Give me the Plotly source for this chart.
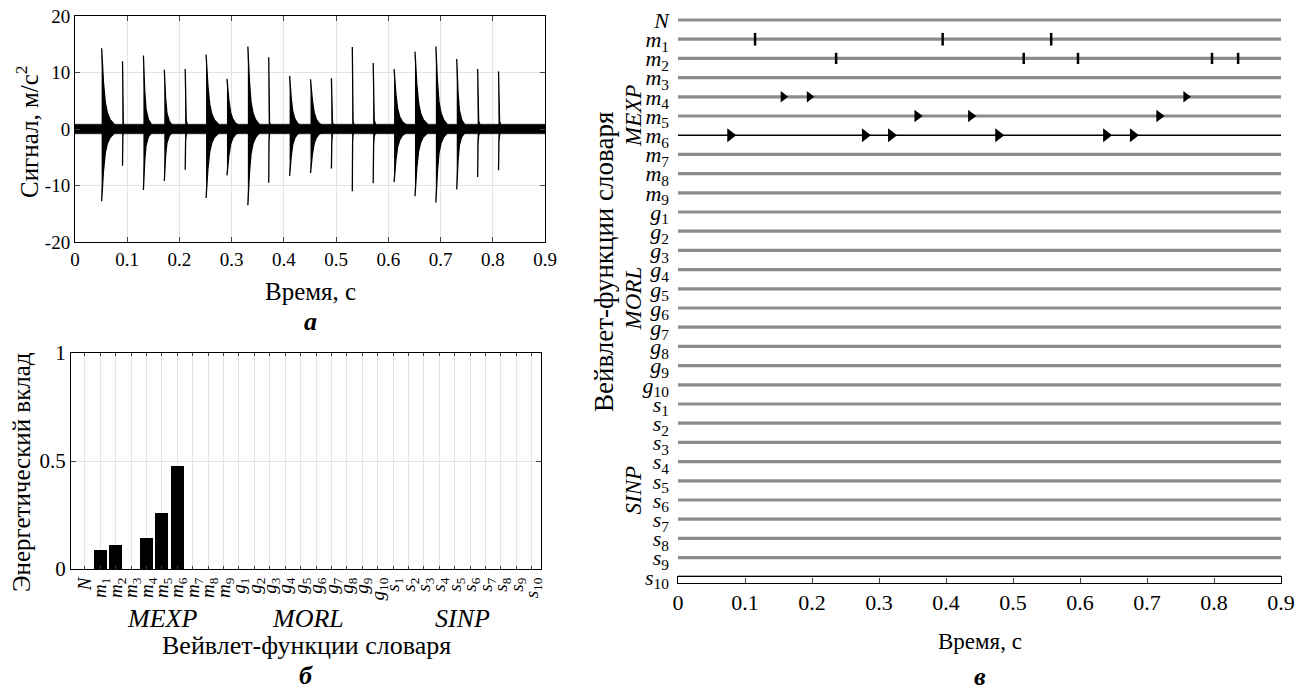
import plotly.graph_objects as go

W, H = 1313, 692
FONT = "Liberation Serif"
PAGE_OFFSET = 8  # browser body margin

# ---------------- panel a: signal ----------------
IMPULSE_T = [0.051, 0.091, 0.131, 0.171, 0.211, 0.251, 0.291, 0.331, 0.371, 0.411,
             0.451, 0.491, 0.531, 0.571, 0.611, 0.651, 0.691, 0.731, 0.771, 0.811]
IMPULSE_POS = [14.3, 12.0, 13.0, 10.5, 10.6, 13.2, 8.9, 14.6, 12.7, 9.4,
               8.8, 9.0, 14.5, 11.7, 10.6, 13.7, 14.6, 12.4, 10.6, 10.2]
IMPULSE_NEG = [-12.8, -6.5, -10.8, -9.2, -7.2, -12.2, -8.2, -13.5, -9.5, -8.3,
               -7.8, -7.0, -11.0, -9.6, -9.4, -11.9, -13.0, -10.7, -8.5, -7.3]
IMPULSE_TYPE = ["m6", "m1", "m4", "m4", "m2", "m6", "m6", "m5", "m1", "m5",
                "m6", "m2", "m1", "m2", "m6", "m6", "m5", "m4", "m2", "m2"]
NOISE_T = [0.0, 0.9]
NOISE_AMP = 0.85
# envelope: time after onset (s) and fraction of the peak
DECAY_T = {
    "m1": [0, 0.0006, 0.0015, 0.003],
    "m2": [0, 0.0008, 0.002, 0.0045],
    "m4": [0, 0.001, 0.0025, 0.005, 0.0095, 0.015],
    "m5": [0, 0.0012, 0.003, 0.006, 0.01, 0.015, 0.021],
    "m6": [0, 0.0012, 0.0035, 0.007, 0.011, 0.016, 0.024],
}
DECAY_F = {
    "m1": [1, 0.2, 0.09, 0.06],
    "m2": [1, 0.3, 0.13, 0.07],
    "m4": [1, 0.72, 0.52, 0.27, 0.13, 0.065],
    "m5": [1, 0.78, 0.58, 0.33, 0.19, 0.11, 0.06],
    "m6": [1, 0.8, 0.58, 0.33, 0.2, 0.12, 0.06],
}
SIG_X_TICKS = [0, 0.1, 0.2, 0.3, 0.4, 0.5, 0.6, 0.7, 0.8, 0.9]
SIG_X_LABELS = ["0", "0.1", "0.2", "0.3", "0.4", "0.5", "0.6", "0.7", "0.8", "0.9"]
SIG_Y_TICKS = [-20, -10, 0, 10, 20]
SIG_Y_LABELS = ["-20", "-10", "0", "10", "20"]

# ---------------- panel б: energy ----------------
CATEGORIES = (["N"] + ["m%d" % i for i in range(1, 10)]
              + ["g%d" % i for i in range(1, 11)] + ["s%d" % i for i in range(1, 11)])
ENERGY = [0, 0.088, 0.113, 0, 0.144, 0.259, 0.477, 0, 0, 0,
          0, 0, 0, 0, 0, 0, 0, 0, 0, 0,
          0, 0, 0, 0, 0, 0, 0, 0, 0, 0]
GROUPS = {"MEXP": ["m%d" % i for i in range(1, 10)],
          "MORL": ["g%d" % i for i in range(1, 11)],
          "SINP": ["s%d" % i for i in range(1, 11)]}
E_Y_TICKS = [0, 0.5, 1]
E_Y_LABELS = ["0", "0.5", "1"]

# ---------------- panel в: time-frequency events ----------------
EVENT_T = {
    "m1": [0.115, 0.395, 0.557],
    "m2": [0.236, 0.516, 0.597, 0.797, 0.836],
    "m4": [0.157, 0.196, 0.758],
    "m5": [0.357, 0.437, 0.718],
    "m6": [0.078, 0.279, 0.318, 0.478, 0.639, 0.679],
}
HIGHLIGHT_ROW = "m6"


def px(x):
    return (x - PAGE_OFFSET) / W


def py(y):
    return 1 - (y - PAGE_OFFSET) / H


def label(cat):
    if len(cat) == 1:
        return "<i>%s</i>" % cat
    return "<i>%s</i><sub>%s</sub>" % (cat[0], cat[1:])


fig = go.Figure()

# noise band
fig.add_trace(go.Scatter(
    x=[NOISE_T[0], NOISE_T[1], NOISE_T[1], NOISE_T[0]],
    y=[NOISE_AMP, NOISE_AMP, -NOISE_AMP, -NOISE_AMP],
    fill="toself", fillcolor="black", mode="lines",
    line=dict(color="black", width=0.5), xaxis="x", yaxis="y",
    hoverinfo="skip", showlegend=False))

# impulses
for t0, p, n, typ in zip(IMPULSE_T, IMPULSE_POS, IMPULSE_NEG, IMPULSE_TYPE):
    offs, fr = DECAY_T[typ], DECAY_F[typ]
    xs = [t0 + o for o in offs] + [t0 + o for o in reversed(offs)]
    ys = [p * f for f in fr] + [n * f for f in reversed(fr)]
    fig.add_trace(go.Scatter(
        x=xs, y=ys, fill="toself", fillcolor="black", mode="lines",
        line=dict(color="black", width=1.3), xaxis="x", yaxis="y",
        hoverinfo="skip", showlegend=False))

# energy bars
fig.add_trace(go.Bar(
    x=list(range(len(CATEGORIES))), y=ENERGY, width=0.85,
    marker=dict(color="black", line=dict(width=0)),
    xaxis="x2", yaxis="y2", showlegend=False))

# rows
for i, cat in enumerate(CATEGORIES):
    hl = cat == HIGHLIGHT_ROW
    fig.add_trace(go.Scatter(
        x=NOISE_T, y=[i, i], mode="lines",
        line=dict(color="black" if hl else "#8c8c8c", width=1.6 if hl else 3.2),
        xaxis="x3", yaxis="y3", hoverinfo="skip", showlegend=False))

MARKERS = {
    "m1": dict(symbol="line-ns-open", size=9, color="black", line=dict(color="black", width=2.5)),
    "m2": dict(symbol="line-ns-open", size=8, color="black", line=dict(color="black", width=2.5)),
    "m4": dict(symbol="triangle-right", size=10, color="black"),
    "m5": dict(symbol="triangle-right", size=11, color="black"),
    "m6": dict(symbol="triangle-right", size=12, color="black"),
}
for cat, times in EVENT_T.items():
    row = CATEGORIES.index(cat)
    fig.add_trace(go.Scatter(
        x=times, y=[row] * len(times), mode="markers",
        marker=MARKERS[cat], xaxis="x3", yaxis="y3",
        hoverinfo="skip", showlegend=False))

# tiny time axis box
fig.add_trace(go.Scatter(x=NOISE_T, y=[None, None], mode="lines",
                         xaxis="x4", yaxis="y4", hoverinfo="skip", showlegend=False))

grid = "#e4e4e4"
tf = dict(family=FONT, size=19, color="black")
row_top, row_step = 20, 19.2
n_rows = len(CATEGORIES)
y3_top = (row_top - 10) / row_step
y3_bot = (583 - row_top) / row_step

common = dict(automargin=False, zeroline=False, ticklabeloverflow="allow")
fig.update_layout(
    width=W, height=H, margin=dict(l=0, r=0, t=0, b=0, autoexpand=False),
    paper_bgcolor="white", plot_bgcolor="white",
    font=dict(family=FONT, color="black"),
    showlegend=False, bargap=0,
    xaxis=dict(domain=[px(75), px(545)], anchor="y", range=[0, 0.9],
               tickvals=SIG_X_TICKS, ticktext=SIG_X_LABELS, ticks="inside", ticklen=5,
               showline=True, linecolor="black", linewidth=1, mirror="ticks",
               showgrid=True, gridcolor=grid, tickfont=tf, **common),
    yaxis=dict(domain=[py(242), py(16)], anchor="x", range=[-20, 20],
               tickvals=SIG_Y_TICKS, ticktext=SIG_Y_LABELS, ticks="inside", ticklen=5,
               showline=True, linecolor="black", linewidth=1, mirror="ticks",
               showgrid=True, gridcolor=grid, tickfont=tf, **common),
    xaxis2=dict(domain=[px(71), px(541)], anchor="y2", range=[-0.9, 29.6],
                tickvals=list(range(n_rows)), ticktext=[label(c) for c in CATEGORIES],
                tickangle=-90, ticks="inside", ticklen=3,
                showline=True, linecolor="black", linewidth=1, mirror="ticks",
                showgrid=True, gridcolor=grid,
                tickfont=dict(family=FONT, size=19, color="black"), **common),
    yaxis2=dict(domain=[py(569), py(353)], anchor="x2", range=[0, 1],
                tickvals=E_Y_TICKS, ticktext=E_Y_LABELS, ticks="inside", ticklen=5,
                showline=True, linecolor="black", linewidth=1, mirror="ticks",
                showgrid=True, gridcolor=grid,
                tickfont=dict(family=FONT, size=21, color="black"), **common),
    xaxis3=dict(domain=[px(678), px(1281)], anchor="y3", range=[0, 0.9],
                showline=False, showgrid=False,
                showticklabels=False, ticks="", **common),
    yaxis3=dict(domain=[py(583), py(10)], anchor="x3", range=[y3_bot, -y3_top],
                tickvals=list(range(n_rows)), ticktext=[label(c) for c in CATEGORIES],
                ticks="", showline=False, showgrid=False,
                ticklabelstandoff=8,
                tickfont=dict(family=FONT, size=22, color="black"), **common),
    xaxis4=dict(domain=[px(678), px(1281)], anchor="y4", range=[0, 0.9],
                tickvals=SIG_X_TICKS, ticktext=SIG_X_LABELS, ticks="inside", ticklen=5,
                showline=True, linecolor="black", linewidth=1, mirror=True,
                showgrid=False,
                tickfont=dict(family=FONT, size=22, color="black"), **common),
    yaxis4=dict(domain=[py(583), py(577)], anchor="x4", range=[0, 1],
                showline=True, linecolor="black", linewidth=1, mirror=True,
                showticklabels=False, ticks="", showgrid=False, **common),
)

ann = []


def add(text, x, y, size, angle=0, xref="paper", yref="paper"):
    ann.append(dict(text=text, x=x, y=y, xref=xref, yref=yref, showarrow=False,
                    textangle=angle, xanchor="center", yanchor="middle",
                    font=dict(family=FONT, size=size, color="black")))


add("Сигнал, м/с<sup>2</sup>", px(27), py(132), 25, -90)
add("Время, с", px(310), py(291), 25)
add("<b><i>а</i></b>", px(310), py(321), 26)

add("Энергетический вклад", px(21), py(472), 25, -90)
for g, members in GROUPS.items():
    idx = [CATEGORIES.index(m) for m in members]
    add("<i>%s</i>" % g, sum(idx) / len(idx), py(618), 26, xref="x2")
    add("<i>%s</i>" % g, px(633), sum(idx) / len(idx), 23, -90, yref="y3")
add("Вейвлет-функции словаря", px(306), py(645), 26)
add("<b><i>б</i></b>", px(306), py(675), 26)

add("Вейвлет-функции словаря", px(604), py(262), 27, -90)
add("Время, с", px(980), py(641), 23)
add("<b><i>в</i></b>", px(980), py(676), 26)

fig.update_layout(annotations=ann)
fig.write_html("out.html")
